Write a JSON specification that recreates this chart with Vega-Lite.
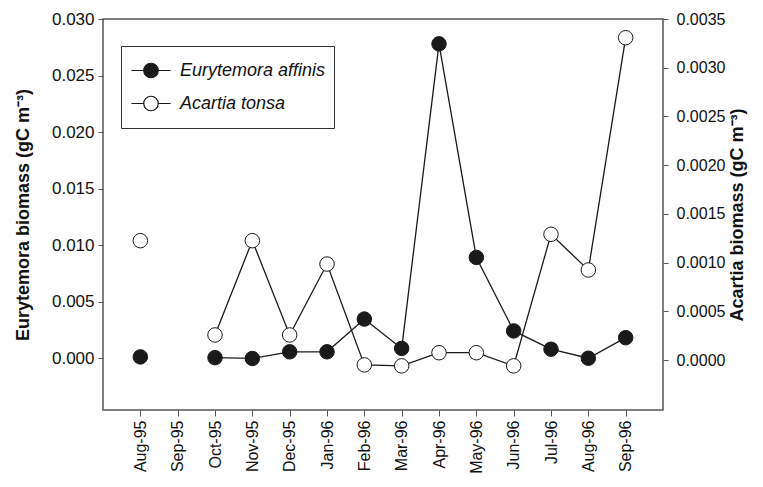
{
  "$schema": "https://vega.github.io/schema/vega-lite/v6.json",
  "width": 560,
  "height": 391,
  "autosize": {"type": "none"},
  "padding": {"left": 103, "top": 19, "right": 100, "bottom": 77},
  "background": "white",
  "config": {
    "font": "Liberation Sans",
    "view": {"stroke": "#555555", "strokeWidth": 1.5},
    "axis": {
      "domain": false,
      "grid": false,
      "ticks": true,
      "tickColor": "#555555",
      "tickSize": 5,
      "labelFont": "Liberation Sans",
      "labelFontSize": 17,
      "labelColor": "#111111",
      "titleFont": "Liberation Sans",
      "titleFontSize": 18,
      "titleFontWeight": "bold",
      "titleColor": "#111111"
    }
  },
  "data": {
    "values": [
      {"month": "Aug-95", "species": "Eurytemora affinis", "biomass": 0.0001},
      {"month": "Sep-95", "species": "Eurytemora affinis", "biomass": null},
      {"month": "Oct-95", "species": "Eurytemora affinis", "biomass": 0.00003},
      {"month": "Nov-95", "species": "Eurytemora affinis", "biomass": -0.00004},
      {"month": "Dec-95", "species": "Eurytemora affinis", "biomass": 0.00055},
      {"month": "Jan-96", "species": "Eurytemora affinis", "biomass": 0.00055},
      {"month": "Feb-96", "species": "Eurytemora affinis", "biomass": 0.00345},
      {"month": "Mar-96", "species": "Eurytemora affinis", "biomass": 0.00085},
      {"month": "Apr-96", "species": "Eurytemora affinis", "biomass": 0.0278},
      {"month": "May-96", "species": "Eurytemora affinis", "biomass": 0.0089},
      {"month": "Jun-96", "species": "Eurytemora affinis", "biomass": 0.0024},
      {"month": "Jul-96", "species": "Eurytemora affinis", "biomass": 0.00078},
      {"month": "Aug-96", "species": "Eurytemora affinis", "biomass": -0.00002},
      {"month": "Sep-96", "species": "Eurytemora affinis", "biomass": 0.0018},
      {"month": "Aug-95", "species": "Acartia tonsa", "biomass": 0.001225},
      {"month": "Sep-95", "species": "Acartia tonsa", "biomass": null},
      {"month": "Oct-95", "species": "Acartia tonsa", "biomass": 0.000257},
      {"month": "Nov-95", "species": "Acartia tonsa", "biomass": 0.001225},
      {"month": "Dec-95", "species": "Acartia tonsa", "biomass": 0.000257},
      {"month": "Jan-96", "species": "Acartia tonsa", "biomass": 0.000985},
      {"month": "Feb-96", "species": "Acartia tonsa", "biomass": -0.00005},
      {"month": "Mar-96", "species": "Acartia tonsa", "biomass": -0.00006},
      {"month": "Apr-96", "species": "Acartia tonsa", "biomass": 0.000075},
      {"month": "May-96", "species": "Acartia tonsa", "biomass": 0.000075},
      {"month": "Jun-96", "species": "Acartia tonsa", "biomass": -0.00006},
      {"month": "Jul-96", "species": "Acartia tonsa", "biomass": 0.00129},
      {"month": "Aug-96", "species": "Acartia tonsa", "biomass": 0.000924},
      {"month": "Sep-96", "species": "Acartia tonsa", "biomass": 0.003308}
    ]
  },
  "encoding": {
    "x": {
      "field": "month",
      "type": "ordinal",
      "scale": {
        "type": "point",
        "padding": 1,
        "domain": ["Aug-95", "Sep-95", "Oct-95", "Nov-95", "Dec-95", "Jan-96", "Feb-96", "Mar-96", "Apr-96", "May-96", "Jun-96", "Jul-96", "Aug-96", "Sep-96"]
      },
      "axis": {"title": null, "labelAngle": 270, "tickSize": 6, "labelPadding": 4, "labelFontSize": 16}
    }
  },
  "layer": [
    {
      "transform": [{"filter": "datum.species === 'Eurytemora affinis'"}],
      "encoding": {
        "y": {
          "field": "biomass",
          "type": "quantitative",
          "scale": {"domain": [-0.0046, 0.03], "nice": false, "zero": false},
          "axis": {
            "orient": "left",
            "values": [0, 0.005, 0.01, 0.015, 0.02, 0.025, 0.03],
            "format": ".3f",
            "title": "Eurytemora biomass (gC m⁻³)",
            "labelPadding": 4,
            "titlePadding": 19
          }
        }
      },
      "layer": [
        {"mark": {"type": "line", "stroke": "#1a1a1a", "strokeWidth": 1.3}, "encoding": {}},
        {
          "mark": {"type": "point", "shape": "circle", "filled": true, "size": 210, "stroke": "#1a1a1a", "strokeWidth": 1, "opacity": 1},
          "encoding": {
            "fill": {
              "field": "species",
              "type": "nominal",
              "scale": {"domain": ["Eurytemora affinis", "Acartia tonsa"], "range": ["#1a1a1a", "#ffffff"]},
              "legend": {
                "title": null,
                "orient": "none",
                "legendX": 18,
                "legendY": 27,
                "strokeColor": "#333333",
                "padding": 8,
                "rowPadding": -6,
                "clipHeight": 33,
                "symbolType": "M-2.7,0L-1,0M1,0L2.7,0M-1,0A1,1 0 1,0 1,0A1,1 0 1,0 -1,0Z",
                "symbolSize": 210,
                "symbolStrokeColor": "#1a1a1a",
                "symbolStrokeWidth": 1.2,
                "symbolOffset": 13,
                "labelOffset": 20,
                "labelFont": "Liberation Sans",
                "labelFontStyle": "italic",
                "labelFontSize": 18,
                "labelColor": "#111111"
              }
            }
          }
        }
      ]
    },
    {
      "transform": [{"filter": "datum.species === 'Acartia tonsa'"}],
      "encoding": {
        "y": {
          "field": "biomass",
          "type": "quantitative",
          "scale": {"domain": [-0.000513, 0.0035], "nice": false, "zero": false},
          "axis": {
            "orient": "right",
            "values": [0, 0.0005, 0.001, 0.0015, 0.002, 0.0025, 0.003, 0.0035],
            "format": ".4f",
            "title": "Acartia biomass (gC m⁻³)",
            "titleAngle": 270,
            "titleBaseline": "top",
            "titlePadding": 4,
            "labelPadding": 8,
            "labelFontSize": 16
          }
        }
      },
      "layer": [
        {"mark": {"type": "line", "stroke": "#1a1a1a", "strokeWidth": 1.3}, "encoding": {}},
        {
          "mark": {"type": "point", "shape": "circle", "filled": true, "size": 210, "stroke": "#1a1a1a", "strokeWidth": 1, "opacity": 1},
          "encoding": {
            "fill": {"field": "species", "type": "nominal"}
          }
        }
      ]
    }
  ],
  "resolve": {"scale": {"y": "independent"}}
}
